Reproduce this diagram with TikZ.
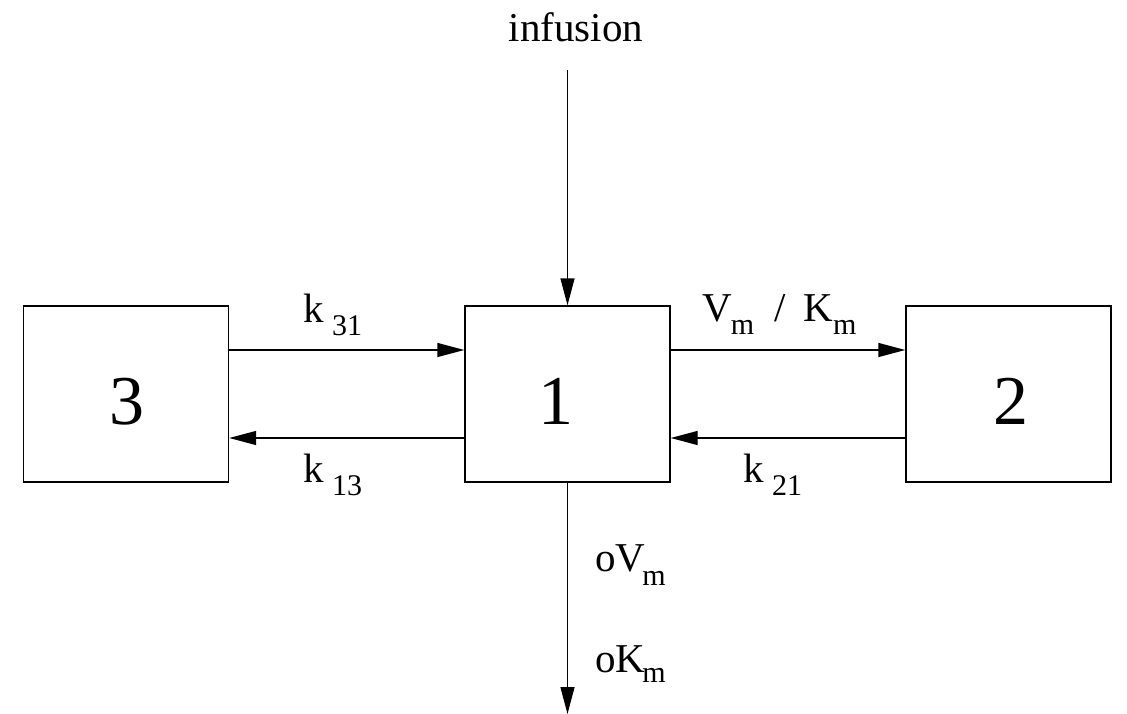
\documentclass[tikz,border=0pt]{standalone}
\usepackage{fontspec}
\setmainfont{Liberation Serif}
\usetikzlibrary{arrows.meta}
\newcommand{\lbl}{\fontsize{41}{41}\selectfont}
\newcommand{\subs}[2][13pt]{\raisebox{-#1}{\fontsize{30}{30}\selectfont #2}}
\begin{document}
\begin{tikzpicture}[x=1pt,y=-1pt,
  comp/.style={draw,line width=1.4pt,minimum width=205pt,minimum height=176pt,inner sep=0pt},
  arr/.style={line width=1.4pt,-{Triangle[length=27pt,width=14pt]}},
  txt/.style={inner sep=0pt,anchor=base west,font=\lbl},
  num/.style={inner sep=0pt,anchor=base,font=\fontsize{70}{70}\selectfont}]
\useasboundingbox (0,0) rectangle (1127,714);
\node[comp] (b3) at (126,394) {};
\node[comp] (b1) at (567.5,394) {};
\node[comp] (b2) at (1008.5,394) {};
\node[num] (n3) at (127,424) {3};
\node[num] (n1) at (556,424) {1};
\node[num] (n2) at (1011,424) {2};
\coordinate (inf) at (567.5,70);
\coordinate (out) at (567.5,714);
\node[inner sep=0pt,anchor=base,font=\lbl] (tinf) at (576,42) {infusion};
\draw[arr] (inf) -- (b1.north);
\draw[arr] (b1.south) -- (out);
\draw[arr] ([yshift=44pt]b3.east) -- ([yshift=44pt]b1.west);
\draw[arr] ([yshift=-44pt]b1.west) -- ([yshift=-44pt]b3.east);
\draw[arr] ([yshift=44pt]b1.east) -- ([yshift=44pt]b2.west);
\draw[arr] ([yshift=-44pt]b2.west) -- ([yshift=-44pt]b1.east);
\node[txt] (k31) at (303,322) {k\hspace{8.5pt}\subs{31}};
\node[txt] (k13) at (303,482) {k\hspace{8.5pt}\subs{13}};
\node[txt] (k21) at (743,482) {k\hspace{8.5pt}\subs{21}};
\node[txt] (vk) at (702,321) {V\kern-1pt\subs{m}\hspace{20pt}/\hspace{18pt}K\subs{m}};
\node[txt] (ov) at (595,571) {oV\kern-3pt\subs[14pt]{m}};
\node[txt] (ok) at (595,672) {oK\kern-3pt\subs[10pt]{m}};
\end{tikzpicture}
\end{document}
